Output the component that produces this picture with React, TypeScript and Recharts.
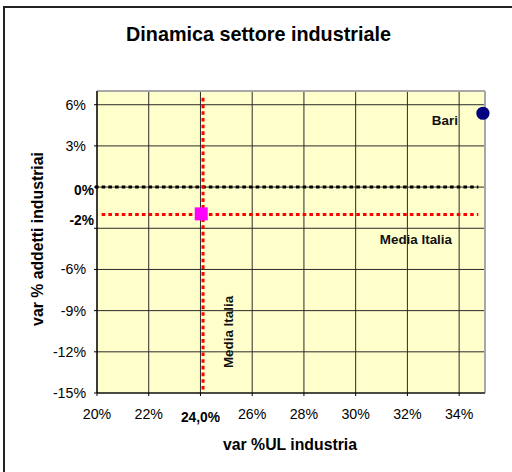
import React from 'react';
import {
  ScatterChart,
  Scatter,
  XAxis,
  YAxis,
  CartesianGrid,
  ReferenceLine,
} from 'recharts';

// ---- data ----
const chartTitle = 'Dinamica settore industriale';
const xTitle = 'var %UL industria';
const yTitle = 'var % addetti industriai';

const xTicks = [20, 22, 24, 26, 28, 30, 32, 34];
const yTicks = [-15, -12, -9, -6, -3, 0, 3, 6];
const xDomain = [20, 35];
const yDomain = [-15, 7];

const bariPoints = [{ x: 34.92, y: 5.38, name: 'Bari' }];
const italiaPoints = [{ x: 24.03, y: -1.95, name: 'Media Italia' }];

const italiaX = 24.1;
const italiaY = -2.0;
const zeroY = 0;
const hLineStart = 20.18;
const zeroLineStart = 19.92;
const hLineEnd = 34.74;
const vLineTop = 6.5;

const italiaXLabel = '24,0%';
const italiaYLabel = '-2%';
const zeroLabel = '0%';
const italiaName = 'Media Italia';
const hiddenYTicks = [0, -3];

const FONT = "'Liberation Sans', Arial, sans-serif";
const TICK_FS = 14.2;

const YTick = (props: any) => {
  const { x, y, payload } = props;
  if (hiddenYTicks.includes(payload.value)) return <g />;
  return (
    <text x={x} y={y} dy="0.355em" textAnchor="end" fontSize={TICK_FS} fontFamily={FONT} fill="#000">
      {`${payload.value}%`}
    </text>
  );
};

const XTick = (props: any) => {
  const { x, y, payload } = props;
  const special = payload.value === 24;
  return (
    <text
      x={x}
      y={y + (special ? 3 : 0)}
      dy="0.71em"
      textAnchor="middle"
      fontSize={special ? 13.8 : TICK_FS}
      fontWeight={special ? 'bold' : 'normal'}
      fontFamily={FONT}
      fill="#000"
    >
      {special ? italiaXLabel : `${payload.value}%`}
    </text>
  );
};

const BariShape = (props: any) => {
  const { cx, cy, payload } = props;
  return (
    <g>
      <circle cx={cx} cy={cy} r={6.6} fill="#000080" />
      <text x={cx - 25} y={cy + 7} dy="0.355em" textAnchor="end" fontSize={13.4} fontWeight="bold" fontFamily={FONT} fill="#111">
        {payload.name}
      </text>
    </g>
  );
};

const SquareShape = (props: any) => {
  const { cx, cy } = props;
  return <rect x={cx - 6.5} y={cy - 6.5} width={13} height={13} fill="#FF00FF" />;
};

const dash = '3.6 3.1';

export default function App() {
  return (
    <div style={{ position: 'absolute', left: 0, top: 0, width: 512, height: 472, overflow: 'hidden', background: '#fff' }}>
      <div
        style={{
          position: 'absolute',
          left: 3,
          top: 5.5,
          width: 600,
          height: 600,
          borderLeft: '2px solid #222',
          borderTop: '2px solid #222',
        }}
      />
      <div style={{ position: 'absolute', left: 0, top: 0 }}>
        <ScatterChart width={512} height={472} margin={{ top: 91, right: 27, left: 37, bottom: 49 }}>
          <CartesianGrid fill="#FFFFCC" stroke="#2a2a2a" strokeWidth={1} />
          <XAxis
            type="number"
            dataKey="x"
            domain={xDomain}
            ticks={xTicks}
            height={30}
            tickSize={3}
            tickMargin={13}
            tick={<XTick />}
            axisLine={{ stroke: '#000', strokeWidth: 1.2 }}
            tickLine={{ stroke: '#000' }}
          />
          <YAxis
            type="number"
            dataKey="y"
            domain={yDomain}
            ticks={yTicks}
            width={60}
            tickSize={3}
            tickMargin={8}
            tick={<YTick />}
            axisLine={{ stroke: '#000', strokeWidth: 1.2 }}
            tickLine={{ stroke: '#000' }}
          />
          <ReferenceLine y={yDomain[1]} stroke="#a8a8a8" strokeWidth={2} ifOverflow="visible" />
          <ReferenceLine x={xDomain[1]} stroke="#a8a8a8" strokeWidth={2} ifOverflow="visible" />
          <ReferenceLine
            segment={[{ x: zeroLineStart, y: zeroY }, { x: hLineEnd, y: zeroY }]}
            stroke="#000"
            strokeWidth={3}
            strokeDasharray={dash}
            ifOverflow="visible"
          />
          <ReferenceLine
            segment={[{ x: hLineStart, y: italiaY }, { x: hLineEnd, y: italiaY }]}
            stroke="#FF0000"
            strokeWidth={3}
            strokeDasharray={dash}
            ifOverflow="visible"
          />
          <ReferenceLine
            segment={[{ x: italiaX, y: vLineTop }, { x: italiaX, y: yDomain[0] }]}
            stroke="#FF0000"
            strokeWidth={3}
            strokeDasharray={dash}
            ifOverflow="visible"
            label={(p: any) => {
              const vb = p.viewBox;
              const tx = vb.x + 25;
              const ty = vb.y + vb.height - 61;
              return (
                <text
                  x={tx}
                  y={ty}
                  dy="0.355em"
                  textAnchor="middle"
                  transform={`rotate(-90 ${tx} ${ty})`}
                  fontSize={13.4}
                  fontWeight="bold"
                  fontFamily={FONT}
                  fill="#111"
                >
                  {italiaName}
                </text>
              );
            }}
          />
          <ReferenceLine
            y={zeroY}
            stroke="none"
            label={(p: any) => {
              const vb = p.viewBox;
              return (
                <text x={vb.x - 3} y={vb.y + 3.5} dy="0.355em" textAnchor="end" fontSize={13.8} fontWeight="bold" fontFamily={FONT} fill="#000">
                  {zeroLabel}
                </text>
              );
            }}
          />
          <ReferenceLine
            y={italiaY}
            stroke="none"
            label={(p: any) => {
              const vb = p.viewBox;
              return (
                <g>
                  <text x={vb.x - 3} y={vb.y + 6} dy="0.355em" textAnchor="end" fontSize={13.8} fontWeight="bold" fontFamily={FONT} fill="#000">
                    {italiaYLabel}
                  </text>
                  <text x={vb.x + vb.width - 33} y={vb.y + 25} dy="0.355em" textAnchor="end" fontSize={13.4} fontWeight="bold" fontFamily={FONT} fill="#111">
                    {italiaName}
                  </text>
                </g>
              );
            }}
          />
          <Scatter data={italiaPoints} shape={<SquareShape />} isAnimationActive={false} />
          <Scatter data={bariPoints} shape={<BariShape />} isAnimationActive={false} />
        </ScatterChart>
      </div>
      <svg width={512} height={472} style={{ position: 'absolute', left: 0, top: 0, pointerEvents: 'none' }}>
        <text x={258.5} y={41} textAnchor="middle" fontSize={19.8} fontWeight="bold" fontFamily={FONT} fill="#000">
          {chartTitle}
        </text>
        <text x={290} y={444} dy="0.355em" textAnchor="middle" fontSize={15.8} fontWeight="bold" fontFamily={FONT} fill="#000">
          {xTitle}
        </text>
        <text
          x={37}
          y={239}
          dy="0.355em"
          textAnchor="middle"
          transform="rotate(-90 37 239)"
          fontSize={15.8}
          fontWeight="bold"
          fontFamily={FONT}
          fill="#000"
        >
          {yTitle}
        </text>
      </svg>
    </div>
  );
}
